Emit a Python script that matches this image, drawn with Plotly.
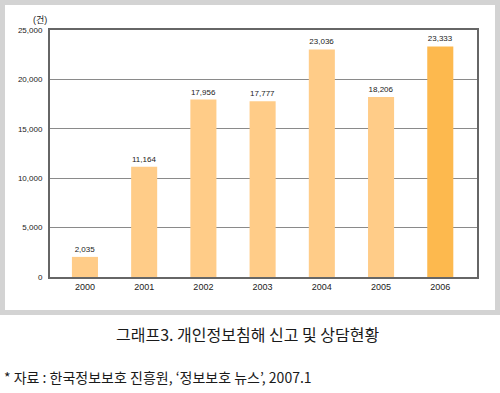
import plotly.graph_objects as go

years = ["2000", "2001", "2002", "2003", "2004", "2005", "2006"]
counts = [2035, 11164, 17956, 17777, 23036, 18206, 23333]
bar_colors = ["#FFCC88"] * 6 + ["#FDB94E"]
y_ticks = [0, 5000, 10000, 15000, 20000, 25000]

W, H = 500, 393
L, R, T, B = 50, 23, 30, 116
pw, ph = W - L - R, H - T - B

def px(x):
    return (x - L) / pw

def py(y):
    return (H - B - y) / ph

fig = go.Figure(go.Bar(
    x=list(range(len(years))), y=counts,
    marker=dict(color=bar_colors, line=dict(width=0)),
    width=0.44,
    text=[f"{v:,}" for v in counts],
    textposition="outside",
    textfont=dict(size=8, color="#222222"),
    cliponaxis=False,
))

fig.update_layout(
    width=W, height=H,
    margin=dict(l=L, r=R, t=T, b=B),
    paper_bgcolor="white", plot_bgcolor="white",
    font=dict(family="Liberation Sans, Noto Sans CJK KR", color="#333333"),
    showlegend=False,
    xaxis=dict(
        range=[-0.59, 6.62], tickmode="array",
        tickvals=list(range(len(years))), ticktext=years,
        showgrid=False, zeroline=False,
        showline=True, linecolor="#666666", linewidth=2, mirror=True,
        ticks="", tickfont=dict(size=9, color="#222222"),
    ),
    yaxis=dict(
        range=[0, 25000], tickvals=y_ticks, tickformat=",",
        showgrid=True, gridcolor="#8a8a8a", gridwidth=1,
        zeroline=False,
        showline=True, linecolor="#666666", linewidth=2, mirror=True,
        ticks="", ticklabelstandoff=4,
        tickfont=dict(size=8, color="#222222"),
    ),
    shapes=[
        dict(type="rect", xref="paper", yref="paper", layer="below",
             x0=px(0), x1=px(500), y0=py(0), y1=py(315),
             fillcolor="#D3D3D3", line=dict(width=0)),
        dict(type="rect", xref="paper", yref="paper", layer="below",
             x0=px(5), x1=px(495), y0=py(5), y1=py(310),
             fillcolor="white", line=dict(width=0)),
    ],
    annotations=[
        dict(text="(건)", xref="paper", yref="paper", x=px(40), y=py(20),
             showarrow=False, font=dict(size=9, color="#222222"),
             xanchor="center", yanchor="middle"),
        dict(text="그래프3. 개인정보침해 신고 및 상담현황", xref="paper", yref="paper",
             x=px(247), y=py(334), showarrow=False,
             font=dict(size=16, color="#1a1a1a", family="Noto Sans CJK KR"),
             xanchor="center", yanchor="middle"),
        dict(text="* 자료 : 한국정보보호 진흥원, ‘정보보호 뉴스’, 2007.1", xref="paper", yref="paper",
             x=px(2), y=py(377), showarrow=False,
             font=dict(size=14, color="#1a1a1a", family="Noto Sans CJK KR"),
             xanchor="left", yanchor="middle"),
    ],
)

fig.write_html("out.html", config={"displayModeBar": False},
               post_script="document.body.style.margin='0';document.body.style.overflow='hidden';")
